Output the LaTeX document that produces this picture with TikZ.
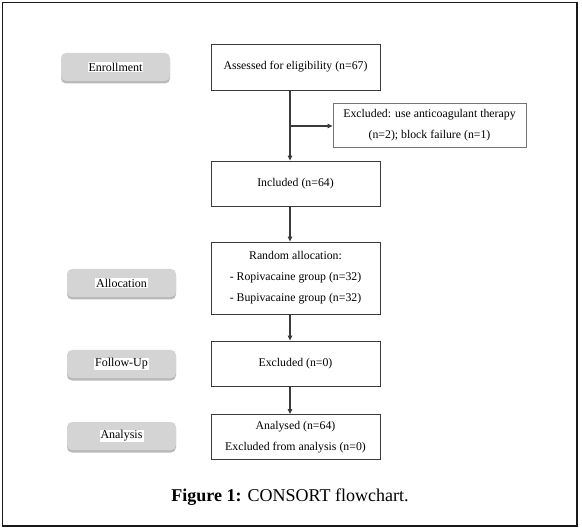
\documentclass[tikz,border=0pt]{standalone}
\usepackage{fontspec}
\setmainfont{Liberation Serif}
\usetikzlibrary{arrows.meta,shadows}
\definecolor{lblgrey}{HTML}{D4D4D4}
\definecolor{boxline}{HTML}{3A3A3A}
\tikzset{
  flowbox/.style={draw=boxline, line width=0.8pt, fill=white, minimum width=169pt, align=center, font=\fontsize{11.8}{21}\selectfont, inner sep=0pt},
  lblbox/.style={fill=lblgrey, rounded corners=5pt, minimum width=109pt, minimum height=28pt, drop shadow={shadow xshift=0pt, shadow yshift=-2.5pt, fill=black!45, opacity=0.6}, inner sep=0pt},
  lbltext/.style={fill=white, inner sep=1pt, font=\fontsize{12}{14}\selectfont},
  arr/.style={draw=boxline, line width=1.1pt, -{Triangle[length=5pt,width=4.5pt]}},
}
\begin{document}
\begin{tikzpicture}[x=1pt,y=-1pt]
\useasboundingbox (0,0) rectangle (582,532);
\draw[line width=1.3pt, draw=black!90] (2.5,2.5) rectangle (577,526);
% labels
\node[lblbox] (enr) at (115.5,67) {};
\node[lbltext] (enrt) at (enr) {Enrollment};
\node[lblbox] (alloc) at (121.5,283) {};
\node[lbltext] (alloct) at (alloc) {Allocation};
\node[lblbox] (follow) at (121.5,364) {};
\node[lbltext] (followt) at (follow) {Follow-Up};
\node[lblbox] (analysis) at (121.5,436) {};
\node[lbltext] (analysist) at (analysis) {Analysis};
% boxes
\node[flowbox, minimum height=46pt] (assess) at (295.5,67) {Assessed for eligibility (n=67)};
\node[flowbox, minimum width=193pt, minimum height=44pt, draw=black!55] (excl) at (429.5,125) {Excluded: use anticoagulant therapy\\(n=2); block failure (n=1)};
\node[flowbox, minimum height=45pt] (incl) at (295.5,183.5) {Included (n=64)};
\node[flowbox, minimum height=72pt] (rand) at (295.5,278) {Random allocation:\\- Ropivacaine group (n=32)\\- Bupivacaine group (n=32)};
\node[flowbox, minimum height=45pt] (fu) at (295.5,363.5) {Excluded (n=0)};
\node[flowbox, minimum height=45pt] (anal) at (295.5,437) {Analysed (n=64)\\Excluded from analysis (n=0)};
% connectors
\coordinate (vx) at (290,0);
\coordinate (br) at (290,126);
\draw[arr] (assess.south -| vx) -- (incl.north -| vx);
\draw[arr] (br) -- (excl.west |- br);
\draw[arr] (incl.south -| vx) -- (rand.north -| vx);
\draw[arr] (rand.south -| vx) -- (fu.north -| vx);
\draw[arr] (fu.south -| vx) -- (anal.north -| vx);
% caption
\node[font=\fontsize{18}{20}\selectfont] (cap) at (290,497) {\textbf{Figure 1:} CONSORT flowchart.};
\end{tikzpicture}
\end{document}
